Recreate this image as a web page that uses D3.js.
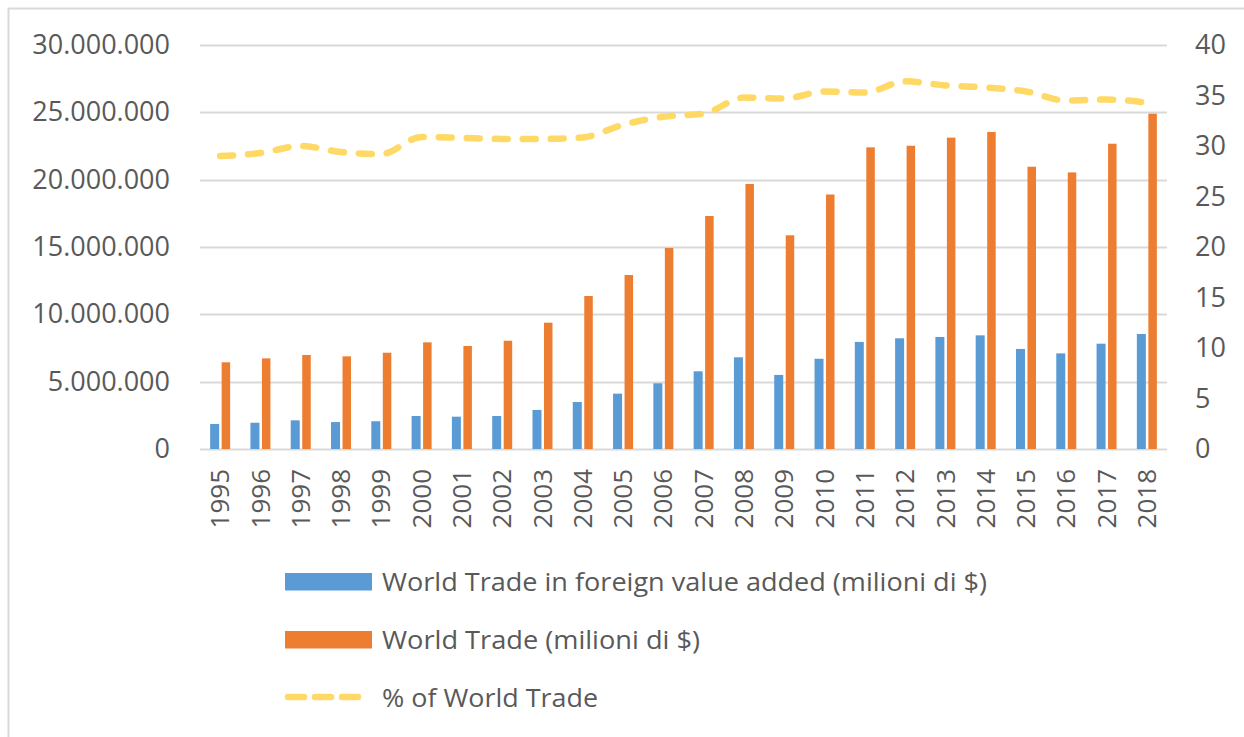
<!DOCTYPE html>
<html>
<head>
<meta charset="utf-8">
<script src="https://cdn.jsdelivr.net/npm/d3@7"></script>
<style>
  body { margin: 0; background: #fff; }
  svg { display: block; font-family: "Open Sans", sans-serif; }
  .tick text { fill: #595959; }
</style>
</head>
<body>
<div id="chart"></div>
<script>
var svgWidth = 1244;
var svgHeight = 737;

var margin = { top: 45, right: 77, bottom: 288, left: 200 };
var width = svgWidth - margin.left - margin.right;
var height = svgHeight - margin.top - margin.bottom;

// data
var years = ["1995", "1996", "1997", "1998", "1999", "2000", "2001", "2002", "2003", "2004", "2005", "2006",
  "2007", "2008", "2009", "2010", "2011", "2012", "2013", "2014", "2015", "2016", "2017", "2018"];

var foreignVA = [1860000, 1950000, 2130000, 2000000, 2060000, 2450000, 2400000, 2450000, 2900000, 3490000, 4110000, 4880000,
  5770000, 6810000, 5500000, 6700000, 7950000, 8220000, 8320000, 8440000, 7430000, 7100000, 7820000, 8540000];

var worldTrade = [6440000, 6730000, 6980000, 6880000, 7150000, 7920000, 7650000, 8040000, 9380000, 11360000, 12920000, 14930000,
  17300000, 19680000, 15870000, 18900000, 22400000, 22520000, 23120000, 23540000, 20960000, 20540000, 22670000, 24900000];

var pctWorldTrade = [29.0, 29.3, 30.0, 29.4, 29.2, 30.9, 30.8, 30.7, 30.7, 30.85, 32.1, 32.9,
  33.2, 34.8, 34.7, 35.4, 35.3, 36.4, 36.0, 35.8, 35.4, 34.5, 34.6, 34.3];

var leftTicks = [0, 5000000, 10000000, 15000000, 20000000, 25000000, 30000000];
var rightTicks = [0, 5, 10, 15, 20, 25, 30, 35, 40];

var legendLabels = ["World Trade in foreign value added (milioni di $)", "World Trade (milioni di $)", "% of World Trade"];

var blue = "#5B9BD5", orange = "#ED7D31", yellow = "#FFD966";

var svg = d3.select("#chart")
  .append("svg")
  .attr("width", svgWidth)
  .attr("height", svgHeight);

// outer frame (cropped on right and bottom)
svg.append("rect")
  .attr("x", 8.5).attr("y", 8.5)
  .attr("width", svgWidth + 20).attr("height", svgHeight + 20)
  .attr("fill", "none")
  .attr("stroke", "#d9d9d9")
  .attr("stroke-width", 2);

var chartGroup = svg.append("g")
  .attr("transform", `translate(${margin.left}, ${margin.top})`);

// scales
var xScale = d3.scaleBand().domain(years).range([0, width]);
var yLeft = d3.scaleLinear().domain([0, 30000000]).range([height, 0]);
var yRight = d3.scaleLinear().domain([0, 40]).range([height, 0]);

var fmt = function(d) { return d3.format(",")(d).replace(/,/g, "."); };

// gridlines
chartGroup.append("g")
  .selectAll("line")
  .data(leftTicks)
  .enter()
  .append("line")
  .attr("x1", 0).attr("x2", width)
  .attr("y1", d => Math.round(yLeft(d)) + 0.5)
  .attr("y2", d => Math.round(yLeft(d)) + 0.5)
  .attr("stroke", "#d9d9d9")
  .attr("stroke-width", 2);

// left axis
var leftAxis = d3.axisLeft(yLeft).tickValues(leftTicks).tickFormat(fmt).tickSize(0).tickPadding(30);
var gl = chartGroup.append("g").call(leftAxis);
gl.select(".domain").remove();
gl.selectAll("text").attr("font-size", 27).attr("font-family", "Open Sans");

// right axis
var rightAxis = d3.axisRight(yRight).tickValues(rightTicks).tickSize(0).tickPadding(28);
var gr = chartGroup.append("g").attr("transform", `translate(${width}, 0)`).call(rightAxis);
gr.select(".domain").remove();
gr.selectAll("text").attr("font-size", 27).attr("font-family", "Open Sans");

// bottom axis with rotated year labels
var bottomAxis = d3.axisBottom(xScale).tickSize(0);
var gb = chartGroup.append("g").attr("transform", `translate(0, ${height})`).call(bottomAxis);
gb.select(".domain").remove();
gb.selectAll("text")
  .attr("font-size", 26)
  .attr("font-family", "Open Sans")
  .attr("transform", "rotate(-90)")
  .attr("text-anchor", "end")
  .attr("x", -20)
  .attr("y", 0)
  .attr("dy", "0.35em");

// bars
var bw = 9;
chartGroup.append("g")
  .selectAll("rect")
  .data(foreignVA)
  .enter()
  .append("rect")
  .attr("x", (d, i) => xScale(years[i]) + xScale.bandwidth() / 2 - 10)
  .attr("y", d => yLeft(d))
  .attr("width", bw)
  .attr("height", d => height - yLeft(d))
  .attr("fill", blue);

chartGroup.append("g")
  .selectAll("rect")
  .data(worldTrade)
  .enter()
  .append("rect")
  .attr("x", (d, i) => xScale(years[i]) + xScale.bandwidth() / 2 + 1.5)
  .attr("y", d => yLeft(d))
  .attr("width", bw - 0.5)
  .attr("height", d => height - yLeft(d))
  .attr("fill", orange);

// percentage line
var line = d3.line()
  .x((d, i) => xScale(years[i]) + xScale.bandwidth() / 2)
  .y(d => yRight(d))
  .curve(d3.curveMonotoneX);

chartGroup.append("path")
  .datum(pctWorldTrade)
  .attr("d", line)
  .attr("fill", "none")
  .attr("stroke", yellow)
  .attr("stroke-width", 6.5)
  .attr("stroke-linecap", "round")
  .attr("stroke-dasharray", "13,15");

// legend
var legend = svg.append("g").attr("transform", "translate(285, 573)");
var rowH = 58;
var textWidths = [605, 318, 216];

legendLabels.forEach(function(label, i) {
  var row = legend.append("g").attr("transform", `translate(0, ${i * rowH})`);
  if (i < 2) {
    row.append("rect")
      .attr("x", 0).attr("y", 0)
      .attr("width", 87).attr("height", 17.5)
      .attr("fill", i === 0 ? blue : orange);
  } else {
    row.append("line")
      .attr("x1", 3).attr("x2", 78)
      .attr("y1", 8).attr("y2", 8)
      .attr("stroke", yellow)
      .attr("stroke-width", 6.5)
      .attr("stroke-linecap", "round")
      .attr("stroke-dasharray", "16,11");
  }
  row.append("text")
    .attr("x", 97)
    .attr("y", 9)
    .attr("dy", "0.35em")
    .attr("font-size", 26)
    .attr("font-family", "Open Sans")
    .attr("fill", "#595959")
    .attr("textLength", textWidths[i])
    .attr("lengthAdjust", "spacingAndGlyphs")
    .text(label);
});
</script>
</body>
</html>
